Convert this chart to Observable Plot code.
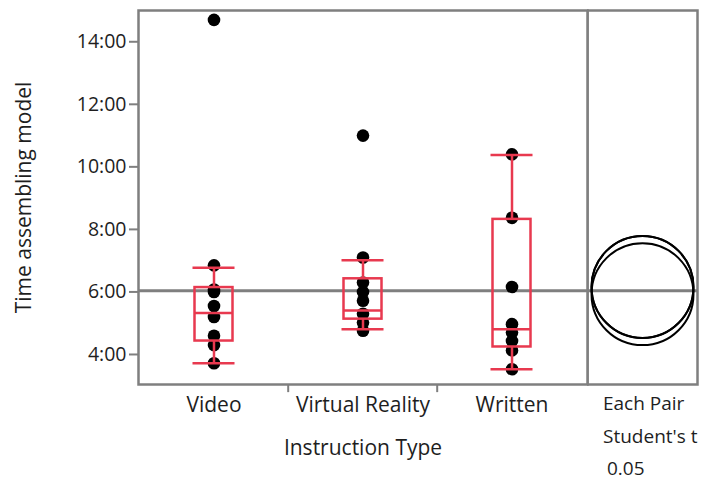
<!DOCTYPE html>
<html>
<head>
<meta charset="utf-8">
<script src="https://cdn.jsdelivr.net/npm/d3@7"></script>
<script src="https://cdn.jsdelivr.net/npm/@observablehq/plot@0.6"></script>
<style>
  html, body { margin: 0; padding: 0; background: #fff; }
  #wrap { position: relative; width: 725px; height: 484px; font-family: "Open Sans", sans-serif; }
  #wrap svg { position: absolute; top: 0; }
  .note { position: absolute; font-size: 19px; color: #222; white-space: nowrap; }
</style>
</head>
<body>
<div id="wrap"></div>
<script>
// ---- data (minutes) ----
const categories = ["Video", "Virtual Reality", "Written"];
const videoTimes = [14.7, 6.85, 6.08, 6.0, 5.55, 5.2, 4.6, 4.3, 3.72];
const vrTimes = [11.0, 7.1, 6.3, 6.0, 5.72, 5.3, 5.02, 4.76];
const writtenTimes = [10.4, 8.37, 6.16, 4.97, 4.7, 4.43, 4.13, 3.53];
// box-plot statistics
const whiskerLow = [3.72, 4.81, 3.53];
const q1 = [4.43, 5.13, 4.24];
const median = [5.33, 5.41, 4.81];
const q3 = [6.14, 6.42, 8.32];
const whiskerHigh = [6.77, 7.01, 10.38];
const grandMean = 6.04;
// comparison circles (center = group mean, radius in minutes)
const circleCenters = [6.16, 6.16, 5.93];
const circleRadius = 1.63;
const yTicks = [4, 6, 8, 10, 12, 14];
const yDomain = [3.04, 15.0];
const notes = ["Each Pair", "Student's t", "0.05"];

const points = [
  ...videoTimes.map(v => ({group: categories[0], time: v})),
  ...vrTimes.map(v => ({group: categories[1], time: v})),
  ...writtenTimes.map(v => ({group: categories[2], time: v}))
];
const boxes = categories.map((c, i) => ({
  group: c, lo: whiskerLow[i], q1: q1[i], med: median[i], q3: q3[i], hi: whiskerHigh[i]
}));

const H = 484, MT = 10, MB = 100;
const gray = "#7f7f7f", red = "#e8394f", ink = "#1e1e1e";
const fmt = d => `${Math.floor(d)}:${String(Math.round((d % 1) * 60)).padStart(2, "0")}`;
const boxInset = 55.5;

const main = Plot.plot({
  width: 588, height: H,
  marginLeft: 138, marginRight: 1, marginTop: MT, marginBottom: MB,
  style: {fontFamily: "Open Sans, sans-serif", fontSize: "19px", color: ink, overflow: "visible"},
  x: {domain: categories, padding: 0},
  y: {domain: yDomain},
  marks: [
    Plot.ruleY([grandMean], {stroke: gray, strokeWidth: 3}),
    Plot.dot(points, {x: "group", y: "time", r: 6.3, fill: "black", stroke: "none"}),
    Plot.ruleX(boxes, {x: "group", y1: "lo", y2: "q1", stroke: red, strokeWidth: 2.5}),
    Plot.ruleX(boxes, {x: "group", y1: "q3", y2: "hi", stroke: red, strokeWidth: 2.5}),
    Plot.barY(boxes, {x: "group", y1: "q1", y2: "q3", fill: "none", stroke: red, strokeWidth: 2.5, insetLeft: boxInset, insetRight: boxInset}),
    Plot.tickY(boxes, {x: "group", y: "med", stroke: red, strokeWidth: 2.5, insetLeft: boxInset, insetRight: boxInset}),
    Plot.tickY(boxes, {x: "group", y: "lo", stroke: red, strokeWidth: 2.5, insetLeft: boxInset - 2, insetRight: boxInset - 2}),
    Plot.tickY(boxes, {x: "group", y: "hi", stroke: red, strokeWidth: 2.5, insetLeft: boxInset - 2, insetRight: boxInset - 2}),
    Plot.axisY({ticks: yTicks, tickFormat: fmt, tickSize: 9, tickPadding: 3, stroke: gray, strokeWidth: 2, strokeOpacity: 1, fontSize: 19.5,
      label: null}),
    Plot.axisY({ticks: [], tickSize: 0, label: "Time assembling model", labelAnchor: "center", labelOffset: 122, labelArrow: "none", fontSize: 21}),
    Plot.axisX({tickSize: 0, tickPadding: 13, fontSize: 21, label: null}),
    Plot.axisX({ticks: [], tickSize: 0, label: "Instruction Type", labelAnchor: "center", labelOffset: 70, labelArrow: "none", fontSize: 21}),
    Plot.ruleX(categories.slice(1), {x: d => d, dx: -74.8, y1: yDomain[0], y2: yDomain[0] - 0.26, stroke: gray, strokeWidth: 2, clip: false}),
    Plot.frame({stroke: gray, strokeWidth: 2.5})
  ]
});
main.style.left = "0px";

const ppm = (H - MT - MB) / (yDomain[1] - yDomain[0]);
const side = Plot.plot({
  width: 138, height: H,
  marginLeft: 0, marginRight: 28, marginTop: MT, marginBottom: MB,
  x: {domain: [0, 1], axis: null},
  y: {domain: yDomain, axis: null},
  r: {type: "linear", domain: [0, 1], range: [0, ppm]},
  marks: [
    Plot.ruleY([grandMean], {stroke: gray, strokeWidth: 3}),
    Plot.dot(circleCenters, {x: () => 0.5, y: d => d, r: () => circleRadius, fill: "none", stroke: "black", strokeWidth: 2}),
    Plot.frame({stroke: gray, strokeWidth: 2.5})
  ]
});
side.style.left = "587px";

const wrap = document.getElementById("wrap");
wrap.append(main, side);
const tops = [390, 423, 455];
const lefts = [603, 603, 607];
notes.forEach((t, i) => {
  const d = document.createElement("div");
  d.className = "note";
  d.textContent = t;
  d.style.color = ink;
  d.style.top = tops[i] + "px";
  d.style.left = lefts[i] + "px";
  wrap.append(d);
});
</script>
</body>
</html>
